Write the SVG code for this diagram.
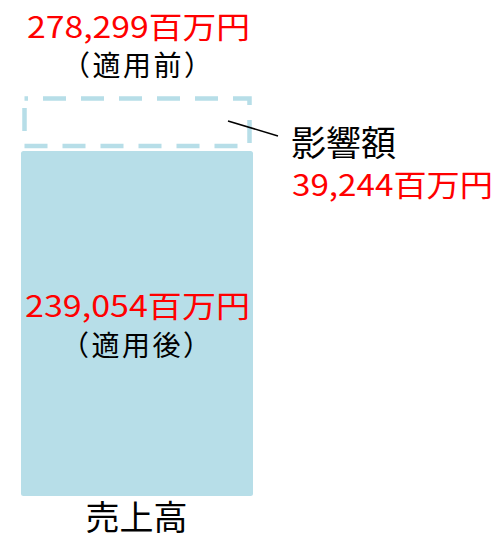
<svg xmlns="http://www.w3.org/2000/svg" width="497" height="539" viewBox="0 0 497 539">
<style>
text{font-family:"Noto Sans CJK JP","Noto Sans",sans-serif;}
.red{fill:#FF0000;font-size:30px;}
.blk{fill:#000;}
.mid{text-anchor:middle;}
</style>
<rect width="497" height="539" fill="#fff"/>
<g id="bar-after">
<rect x="21" y="151" width="232" height="345" rx="2.5" fill="#B7DEE8"/>
</g>
<g id="bar-diff">
<path d="M24.5,98.5 H249.5 V146 H24.5 Z" fill="none" stroke="#B7DEE8" stroke-width="4.5" stroke-dasharray="23 15" stroke-dashoffset="19.5"/>
</g>
<g id="connectors">
<line x1="228" y1="121" x2="278" y2="136" stroke="#000" stroke-width="1.5"/>
</g>
<g id="label-before">
<text class="red mid" x="138.5" y="38" textLength="223" lengthAdjust="spacingAndGlyphs">278,299百万円</text>
<text class="blk mid" x="137" y="76" font-size="28" textLength="150" lengthAdjust="spacing">（適用前）</text>
</g>
<g id="label-impact">
<text class="blk" x="291" y="156" font-size="35">影響額</text>
<text class="red" x="292" y="196" textLength="201" lengthAdjust="spacingAndGlyphs">39,244百万円</text>
</g>
<g id="label-after">
<text class="red mid" x="137.5" y="317" textLength="225" lengthAdjust="spacingAndGlyphs">239,054百万円</text>
<text class="blk mid" x="136" y="355.5" font-size="28" textLength="150" lengthAdjust="spacing">（適用後）</text>
</g>
<g id="axis-label">
<text class="blk mid" x="136.5" y="530" font-size="34">売上高</text>
</g>
</svg>
